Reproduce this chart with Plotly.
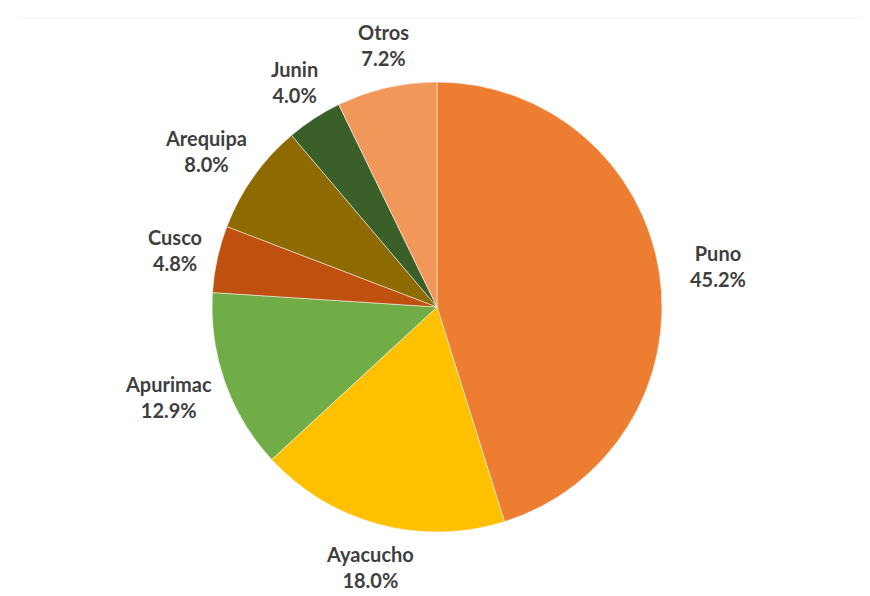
import math
import plotly.graph_objects as go

regions = ["Puno", "Ayacucho", "Apurimac", "Cusco", "Arequipa", "Junin", "Otros"]
shares = [45.2, 18.0, 12.9, 4.8, 8.0, 4.0, 7.2]
colors = ["#ED7D31", "#FFC000", "#70AD47", "#C0500F", "#8E6B00", "#3A5F28", "#F1975A"]

W, H = 870, 596
# domain parameters (plotly renders the pie slightly offset; actual centre ~ (437, 307))
dcx, dcy, r = 429, 299, 225
acx, acy = 437, 307

fig = go.Figure(go.Pie(
    labels=regions,
    values=shares,
    sort=False,
    direction="clockwise",
    rotation=0,
    marker=dict(colors=colors, line=dict(color="rgba(255,255,255,0.5)", width=1)),
    textinfo="none",
    showlegend=False,
    hoverinfo="label+value",
    domain=dict(x=[(dcx - r) / W, (dcx + r) / W], y=[(H - dcy - r) / H, (H - dcy + r) / H]),
))

# data labels placed just outside each slice, derived from the slice mid-angles
annotations = []
total = sum(shares)
cum = 0.0
gap = 24
fs = 20
for name, v in zip(regions, shares):
    mid = (cum + v / 2) / total * 2 * math.pi
    cum += v
    s, c = math.sin(mid), math.cos(mid)
    px = acx + (r + gap) * s
    py = acy - (r + gap) * c
    tw = max(len(name), len(f"{v:.1f}%")) * fs * 0.55
    th = fs * 2.0
    lx = px + s * tw / 2
    ly = py - c * th / 2
    annotations.append(dict(
        x=lx / W, y=1 - ly / H, xref="paper", yref="paper",
        xanchor="center", yanchor="middle", align="center", yshift=8,
        text=f"<b>{name}</b><br><b>{v:.1f}%</b>", showarrow=False,
        font=dict(family="Lato, Open Sans, sans-serif", size=fs, color="#3F3F3F"),
    ))

fig.update_layout(
    width=W, height=H,
    margin=dict(l=0, r=0, t=0, b=0),
    paper_bgcolor="white",
    plot_bgcolor="white",
    annotations=annotations,
    shapes=[
        dict(type="line", xref="paper", yref="paper", x0=0.01, x1=0.99, y0=1 - 10 / H, y1=1 - 10 / H,
             line=dict(color="#F2F2F2", width=1)),
        dict(type="line", xref="paper", yref="paper", x0=0.01, x1=0.99, y0=4 / H, y1=4 / H,
             line=dict(color="#F2F2F2", width=1)),
    ],
)

fig.write_html("out.html")
